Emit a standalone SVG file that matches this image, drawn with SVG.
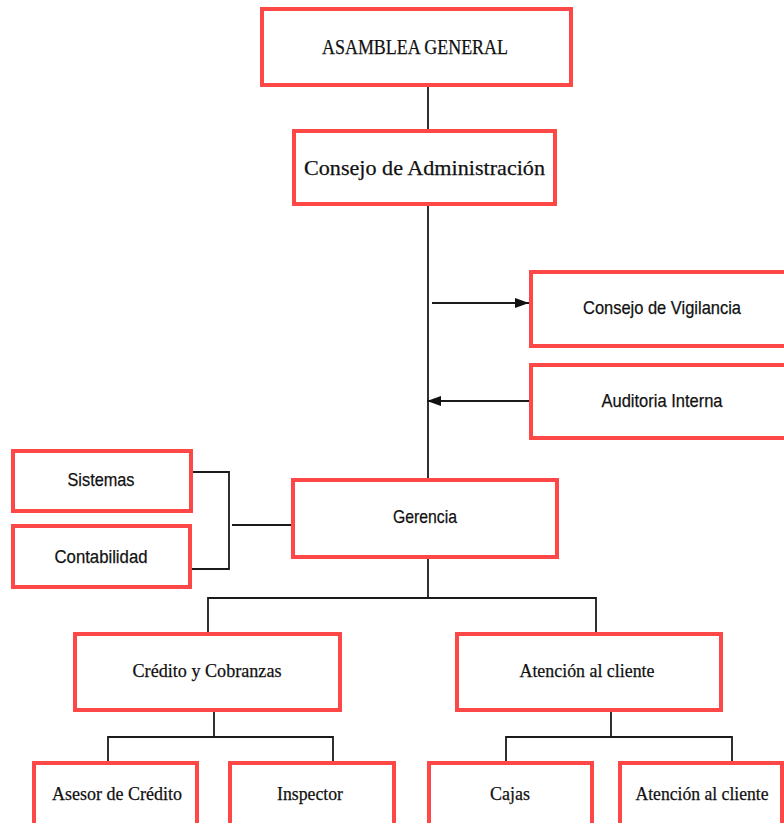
<svg xmlns="http://www.w3.org/2000/svg" width="784" height="823" viewBox="0 0 784 823">
<style>
.box{fill:#fff;stroke:#fe4848;stroke-width:4}
.ln{fill:none;stroke:#1a1a1a;stroke-width:1.8}
.serif{font-family:"Liberation Serif","Times New Roman",serif;fill:#111;stroke:#111;stroke-width:0.25;text-anchor:middle}
.sans{font-family:"Liberation Sans",Arial,sans-serif;fill:#111;stroke:#111;stroke-width:0.25;text-anchor:middle}
</style>
<defs>
<marker id="ah" markerUnits="userSpaceOnUse" markerWidth="16" markerHeight="12" refX="14" refY="6" orient="auto">
<path d="M0,1 L14,6 L0,11 Z" fill="#111"/>
</marker>
</defs>
<rect width="784" height="823" fill="#fff"/>
<g id="connectors">
<path class="ln" d="M428,87 V478"/>
<path class="ln" d="M432,303 H529" marker-end="url(#ah)"/>
<path class="ln" d="M529,401 H427" marker-end="url(#ah)"/>
<path class="ln" d="M190,472 H229 V569 H191"/>
<path class="ln" d="M232,525 H292"/>
<path class="ln" d="M428,559 V598"/>
<path class="ln" d="M208,632 V598 H596 V632"/>
<path class="ln" d="M214,712 V737"/>
<path class="ln" d="M108,762 V737 H333 V762"/>
<path class="ln" d="M611,712 V737"/>
<path class="ln" d="M506,762 V737 H732 V762"/>
</g>
<g id="asamblea">
<rect class="box" x="262" y="9" width="309" height="76"/>
<text class="serif" x="415" y="54" font-size="20" textLength="186" lengthAdjust="spacingAndGlyphs">ASAMBLEA GENERAL</text>
</g>
<g id="consejo-admin">
<rect class="box" x="294" y="131" width="261" height="73"/>
<text class="serif" x="424.5" y="175" font-size="22" textLength="241" lengthAdjust="spacingAndGlyphs">Consejo de Administración</text>
</g>
<g id="consejo-vigilancia">
<rect class="box" x="531" y="272" width="262" height="74"/>
<text class="sans" x="662" y="314" font-size="18.5" textLength="158" lengthAdjust="spacingAndGlyphs">Consejo de Vigilancia</text>
</g>
<g id="auditoria">
<rect class="box" x="531" y="365" width="262" height="73"/>
<text class="sans" x="662" y="407" font-size="18.5" textLength="121" lengthAdjust="spacingAndGlyphs">Auditoria Interna</text>
</g>
<g id="sistemas">
<rect class="box" x="13" y="451" width="178" height="60"/>
<text class="sans" x="101" y="486" font-size="18.5" textLength="67" lengthAdjust="spacingAndGlyphs">Sistemas</text>
</g>
<g id="contabilidad">
<rect class="box" x="13" y="526" width="177" height="61"/>
<text class="sans" x="101" y="563" font-size="18.5" textLength="93" lengthAdjust="spacingAndGlyphs">Contabilidad</text>
</g>
<g id="gerencia">
<rect class="box" x="293" y="480" width="264" height="77"/>
<text class="sans" x="425" y="523" font-size="18.5" textLength="64" lengthAdjust="spacingAndGlyphs">Gerencia</text>
</g>
<g id="credito">
<rect class="box" x="75" y="634" width="265" height="76"/>
<text class="serif" x="207" y="677" font-size="19.5" textLength="149" lengthAdjust="spacingAndGlyphs">Crédito y Cobranzas</text>
</g>
<g id="atencion">
<rect class="box" x="457" y="634" width="264" height="76"/>
<text class="serif" x="587" y="677" font-size="19.5" textLength="135" lengthAdjust="spacingAndGlyphs">Atención al cliente</text>
</g>
<g id="asesor">
<rect class="box" x="34" y="763" width="163" height="80"/>
<text class="serif" x="117" y="800" font-size="19.5" textLength="130" lengthAdjust="spacingAndGlyphs">Asesor de Crédito</text>
</g>
<g id="inspector">
<rect class="box" x="230" y="763" width="164" height="80"/>
<text class="serif" x="310" y="800" font-size="19.5" textLength="66" lengthAdjust="spacingAndGlyphs">Inspector</text>
</g>
<g id="cajas">
<rect class="box" x="429" y="763" width="163" height="80"/>
<text class="serif" x="510" y="800" font-size="19.5" textLength="40" lengthAdjust="spacingAndGlyphs">Cajas</text>
</g>
<g id="atencion-cliente">
<rect class="box" x="620" y="763" width="162" height="80"/>
<text class="serif" x="702" y="800" font-size="19.5" textLength="133" lengthAdjust="spacingAndGlyphs">Atención al cliente</text>
</g>
</svg>
